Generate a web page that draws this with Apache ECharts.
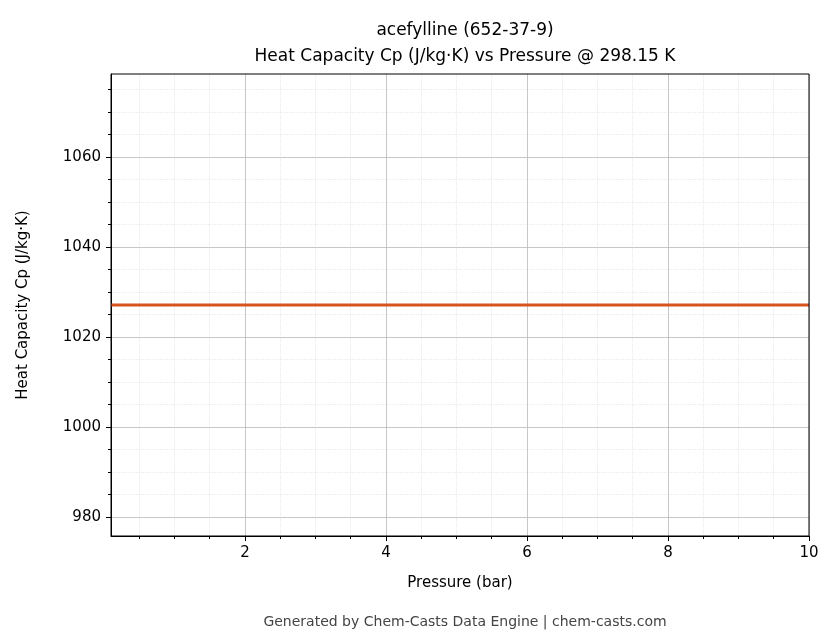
<!DOCTYPE html>
<html><head><meta charset="utf-8">
<script src="https://cdn.jsdelivr.net/npm/echarts@6/dist/echarts.min.js"></script>
<style>html,body{margin:0;padding:0;background:#fff}#c{width:836px;height:644px}</style>
</head><body><div id="c"></div>
<script>
var pressures = [0.1, 1, 2, 3, 4, 5, 6, 7, 8, 9, 10];
var cpValues = [1027.1, 1027.1, 1027.1, 1027.1, 1027.1, 1027.1, 1027.1, 1027.1, 1027.1, 1027.1, 1027.1];
var xTicks = [2, 4, 6, 8, 10];
var yTicks = [980, 1000, 1020, 1040, 1060];
var xMinor = [], yMinor = [];
for (var i = 0.5; i <= 10; i += 0.5) xMinor.push(i);
for (var j = 980; j <= 1075; j += 5) yMinor.push(j);

var font = 'DejaVu Sans';
var plain = function (v) { return String(v); };
var chart = echarts.init(document.getElementById('c'));
chart.setOption({
  animation: false,
  textStyle: {fontFamily: font},
  title: [{
    text: 'acefylline (652-37-9)\nHeat Capacity Cp (J/kg·K) vs Pressure @ 298.15 K',
    left: 460, textAlign: 'center', top: 13,
    textStyle: {fontSize: 17, fontWeight: 'normal', color: '#000', lineHeight: 26, fontFamily: font}
  }, {
    text: 'Generated by Chem-Casts Data Engine | chem-casts.com',
    left: 460, textAlign: 'center', top: 610,
    textStyle: {fontSize: 14, fontWeight: 'normal', color: '#444', fontFamily: font}
  }],
  grid: {left: 111, right: 27, top: 74, bottom: 108},
  xAxis: [{
    type: 'value', min: 0.1, max: 10,
    name: 'Pressure (bar)', nameLocation: 'middle', nameGap: 40,
    nameTextStyle: {fontSize: 15, color: '#000', fontFamily: font},
    axisLine: {lineStyle: {color: '#000'}},
    axisTick: {customValues: xTicks, length: 5, lineStyle: {color: '#000'}},
    axisLabel: {customValues: xTicks, fontSize: 15, color: '#000', margin: 10, formatter: plain, fontFamily: font},
    splitLine: {show: true, lineStyle: {color: '#b0b0b0', width: 0.8}}
  }, {
    type: 'value', min: 0.1, max: 10, position: 'bottom',
    axisLine: {show: false},
    axisTick: {customValues: xMinor, length: 3, lineStyle: {color: '#000'}},
    axisLabel: {show: false},
    splitLine: {show: true, lineStyle: {color: '#d8d8d8', width: 0.6, type: 'dotted'}}
  }],
  yAxis: [{
    type: 'value', min: 975.8, max: 1078.4,
    name: 'Heat Capacity Cp (J/kg·K)', nameLocation: 'middle', nameGap: 80,
    nameTextStyle: {fontSize: 15, color: '#000', fontFamily: font},
    axisLine: {show: true, lineStyle: {color: '#000'}},
    axisTick: {show: true, customValues: yTicks, length: 5, lineStyle: {color: '#000'}},
    axisLabel: {customValues: yTicks, fontSize: 15, color: '#000', margin: 10, formatter: plain, fontFamily: font},
    splitLine: {show: true, lineStyle: {color: '#b0b0b0', width: 0.8}}
  }, {
    type: 'value', min: 975.8, max: 1078.4, position: 'left',
    axisLine: {show: false},
    axisTick: {show: true, customValues: yMinor, length: 3, lineStyle: {color: '#000'}},
    axisLabel: {show: false},
    splitLine: {show: true, lineStyle: {color: '#d8d8d8', width: 0.6, type: 'dotted'}}
  }],
  series: [{
    type: 'line', xAxisIndex: 0, yAxisIndex: 0,
    data: pressures.map(function (p, k) { return [p, cpValues[k]]; }),
    showSymbol: false, z: 5,
    lineStyle: {color: '#d9531e', width: 3}
  }],
  graphic: [{
    type: 'rect', shape: {x: 111, y: 74, width: 698, height: 462},
    style: {fill: 'none', stroke: '#000', lineWidth: 1}, z: 10, silent: true
  }]
});
</script></body></html>
